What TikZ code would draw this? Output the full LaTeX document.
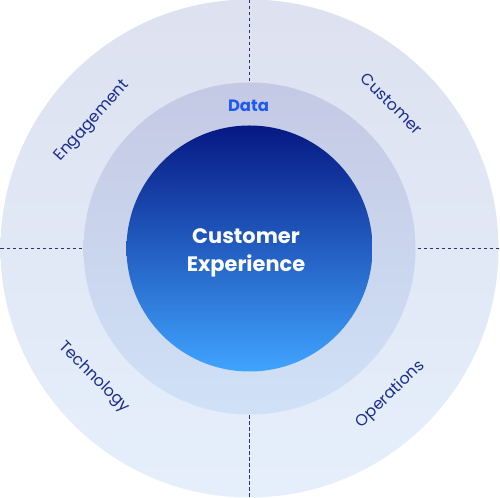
\documentclass[tikz,border=0pt]{standalone}
\usepackage{fontspec}
\setmainfont{Poppins}
\begin{document}
\begin{tikzpicture}[x=1bp,y=1bp,
  ringlabel/.style={text=labelblue, font=\fontsize{16}{19}\selectfont, inner sep=0pt},
  divider/.style={draw=dashblue, line width=1.3bp, dash pattern=on 3.5bp off 2.5bp}]
\definecolor{labelblue}{HTML}{1B2E8C}
\definecolor{dashblue}{HTML}{24347F}
\definecolor{datablue}{HTML}{1F5AF0}
\definecolor{outertop}{HTML}{DDE1F0}
\definecolor{outerbot}{HTML}{E5EFFB}
\definecolor{midtop}{HTML}{C4C9E4}
\definecolor{midbot}{HTML}{D0E1F7}
\definecolor{intop}{HTML}{061883}
\definecolor{inmid}{HTML}{1840AE}
\definecolor{inbot}{HTML}{40A4FF}
\useasboundingbox (0,0) rectangle (500,498);
\coordinate (c) at (249.5,249.5);
% rings
\shade[top color=outertop, bottom color=outerbot] (c) circle[radius=249];
\shade[top color=midtop, bottom color=midbot] (c) circle[radius=166];
\shade[top color=intop, middle color=inmid, bottom color=inbot] (c) circle[radius=123];
% dashed dividers
\coordinate (t1) at (249.5,498); \coordinate (t2) at (249.5,415.5);
\coordinate (b1) at (249.5,1); \coordinate (b2) at (249.5,83.5);
\coordinate (l1) at (0.5,249.5); \coordinate (l2) at (83.5,249.5);
\coordinate (r1) at (499,249.5); \coordinate (r2) at (415.5,249.5);
\draw[divider] (t1) -- (t2);
\draw[divider] (b1) -- (b2);
\draw[divider] (l1) -- (l2);
\draw[divider] (r1) -- (r2);
% labels
\node[ringlabel, rotate=48] (eng) at ([shift={(141:202)}]c) {Engagement};
\node[ringlabel, rotate=-45] (cus) at ([shift={(45.5:203)}]c) {Customer};
\node[ringlabel, rotate=-45] (tec) at ([shift={(219.6:202)}]c) {Technology};
\node[ringlabel, rotate=44] (ope) at ([shift={(-46:203)}]c) {Operations};
\node[text=datablue, font=\fontsize{16.5}{19}\selectfont\bfseries, inner sep=0pt] (data) at (248.5,392) {Data};
\node[text=white, font=\fontsize{21}{28}\selectfont\bfseries, align=center, inner sep=0pt] (cx) at (246,245.5) {Customer\\Experience};
\end{tikzpicture}
\end{document}
